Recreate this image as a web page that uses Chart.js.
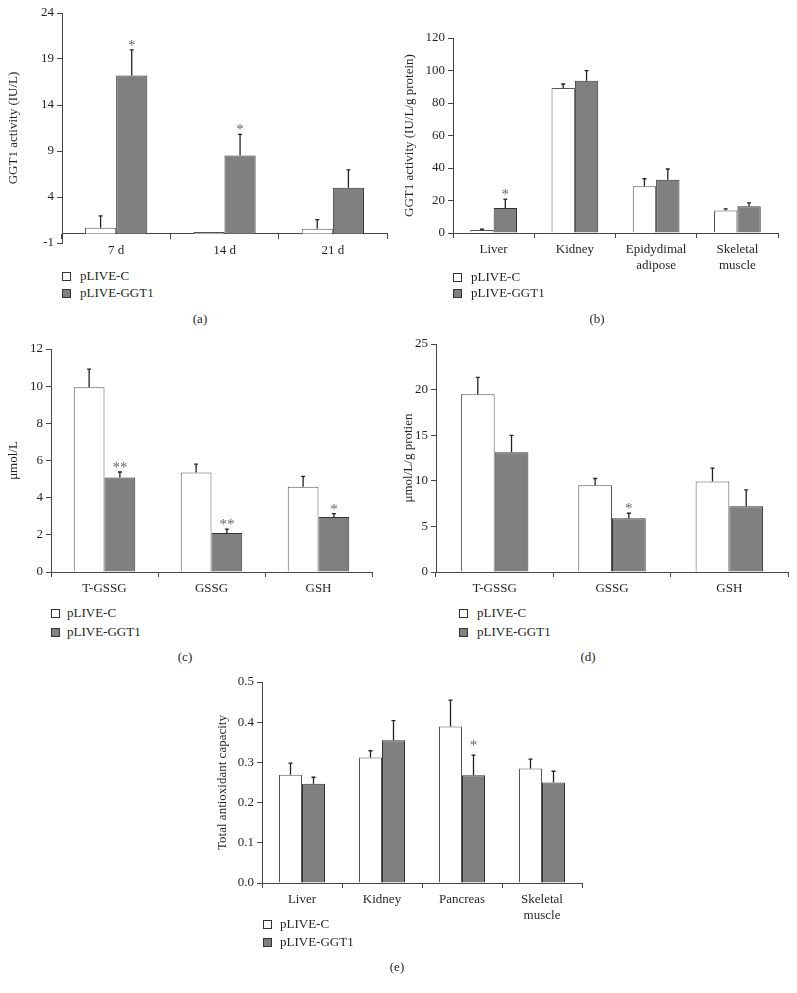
<!DOCTYPE html>
<html lang="en">
<head>
<meta charset="UTF-8">
<title>GGT1 activity and glutathione panels</title>
<script src="https://cdn.jsdelivr.net/npm/chart.js"></script>
<style>
  body { margin: 0; background: #fff; }
  #fig { position: relative; width: 797px; height: 993px; font-family: "Liberation Serif", serif; color: #231f20; }
  #fig canvas { position: absolute; }
  .cap { position: absolute; font-size: 13px; transform: translate(-50%, -50%); }
  .leg { position: absolute; font-size: 13px; line-height: 16px; white-space: nowrap; transform: translateY(-50%); }
  .leg i { position: absolute; left: 0; top: 4px; width: 7px; height: 7px; border: 1px solid #333; }
</style>
</head>
<body>
<div id="fig"></div>
<script>
const seriesNames = ['pLIVE-C', 'pLIVE-GGT1'];

// (a) serum GGT1 after injection
const catsA = ['7 d', '14 d', '21 d'];
const ctrlA = [0.65, 0.2, 0.55];
const ctrlErrA = [1.3, 0, 1.0];
const ggtA = [17.2, 8.5, 5.0];
const ggtErrA = [2.8, 2.3, 1.95];
const starsA = ['*', '*', ''];
const yTicksA = [-1, 4, 9, 14, 19, 24];

// (b) tissue GGT1
const catsB = ['Liver', 'Kidney', ['Epidydimal', 'adipose'], ['Skeletal', 'muscle']];
const ctrlB = [1.8, 89.2, 28.7, 13.9];
const ctrlErrB = [0.5, 2.5, 4.7, 0.9];
const ggtB = [15.4, 93.7, 32.8, 16.4];
const ggtErrB = [5.5, 6.2, 6.6, 2.1];
const starsB = ['*', '', '', ''];
const yTicksB = [0, 20, 40, 60, 80, 100, 120];

// (c) serum glutathione
const catsC = ['T-GSSG', 'GSSG', 'GSH'];
const ctrlC = [9.94, 5.36, 4.59];
const ctrlErrC = [0.98, 0.45, 0.56];
const ggtC = [5.09, 2.10, 2.96];
const ggtErrC = [0.29, 0.21, 0.18];
const starsC = ['**', '**', '*'];
const yTicksC = [0, 2, 4, 6, 8, 10, 12];

// (d) liver glutathione
const catsD = ['T-GSSG', 'GSSG', 'GSH'];
const ctrlD = [19.5, 9.52, 9.92];
const ctrlErrD = [1.83, 0.73, 1.46];
const ggtD = [13.14, 5.89, 7.21];
const ggtErrD = [1.83, 0.55, 1.79];
const starsD = ['', '*', ''];
const yTicksD = [0, 5, 10, 15, 20, 25];

// (e) total antioxidant capacity
const catsE = ['Liver', 'Kidney', 'Pancreas', ['Skeletal', 'muscle']];
const ctrlE = [0.269, 0.312, 0.389, 0.285];
const ctrlErrE = [0.029, 0.017, 0.066, 0.023];
const ggtE = [0.247, 0.355, 0.268, 0.25];
const ggtErrE = [0.016, 0.049, 0.05, 0.028];
const starsE = ['', '', '*', ''];
const yTicksE = [0, 0.1, 0.2, 0.3, 0.4, 0.5];

const ink = '#231f20';
const axisCol = '#444';
const font = { family: '"Liberation Serif", serif', size: 13 };
const fig = document.getElementById('fig');

// error bars (upward only) and significance stars
const errBars = {
  id: 'errBars',
  afterDatasetsDraw(chart, args, opts) {
    const ctx = chart.ctx, y = chart.scales.y;
    ctx.save();
    chart.data.datasets.forEach((ds, di) => {
      chart.getDatasetMeta(di).data.forEach((bar, i) => {
        const e = ds.err[i];
        const top = y.getPixelForValue(ds.data[i] + e);
        if (e > 0) {
          ctx.strokeStyle = '#222';
          ctx.lineWidth = 1.3;
          ctx.beginPath();
          ctx.moveTo(bar.x, bar.y);
          ctx.lineTo(bar.x, top);
          ctx.moveTo(bar.x - 2, top);
          ctx.lineTo(bar.x + 2, top);
          ctx.stroke();
        }
        const s = ds.stars[i];
        if (s) {
          ctx.fillStyle = '#666';
          ctx.font = '15px "Liberation Serif", serif';
          ctx.textAlign = 'center';
          ctx.textBaseline = 'alphabetic';
          ctx.fillText(s, bar.x, top - opts.gap);
        }
      });
    });
    ctx.restore();
  }
};

function panel(p) {
  const cv = document.createElement('canvas');
  cv.width = p.w;
  cv.height = p.h;
  cv.style.left = p.x + 'px';
  cv.style.top = p.y + 'px';
  fig.appendChild(cv);
  const fmt = p.fmt || (v => String(v));
  new Chart(cv, {
    type: 'bar',
    data: {
      labels: p.cats,
      datasets: [
        { label: seriesNames[0], data: p.ctrl, err: p.ctrlErr, stars: [],
          backgroundColor: '#ffffff', borderColor: '#555', borderWidth: 1 },
        { label: seriesNames[1], data: p.ggt, err: p.ggtErr, stars: p.stars,
          backgroundColor: '#808080', borderColor: '#333', borderWidth: 1 }
      ]
    },
    options: {
      responsive: false,
      animation: false,
      devicePixelRatio: 1,
      layout: { padding: p.pad },
      datasets: { bar: { categoryPercentage: 0.575, barPercentage: 1 } },
      plugins: {
        legend: { display: false },
        tooltip: { enabled: false },
        errBars: { gap: p.gap }
      },
      scales: {
        x: {
          position: p.xAt !== undefined ? { y: p.xAt } : 'bottom',
          grid: { offset: true, drawOnChartArea: false, tickLength: 5, color: axisCol },
          border: { color: axisCol },
          ticks: { font: font, color: ink, padding: 4, maxRotation: 0 },
          afterFit: s => { if (p.xH) s.height = p.xH; }
        },
        y: {
          min: p.yTicks[0],
          max: p.yTicks[p.yTicks.length - 1],
          afterBuildTicks: s => { s.ticks = p.yTicks.map(v => ({ value: v })); },
          afterFit: s => { s.width = p.yW; },
          grid: { drawOnChartArea: false, tickLength: 5, color: axisCol },
          border: { color: axisCol },
          ticks: { font: font, color: ink, padding: 3, callback: v => fmt(v) },
          title: { display: true, text: p.title, font: font, color: ink, padding: 0 }
        }
      }
    },
    plugins: [errBars]
  });

  // legend
  p.legRows.forEach((ry, i) => {
    const row = document.createElement('div');
    row.className = 'leg';
    row.style.left = p.legX + 'px';
    row.style.top = ry + 'px';
    row.innerHTML = '<i style="background:' + (i ? '#808080' : '#fff') + '"></i><span style="margin-left:' +
      p.legGap + 'px">' + seriesNames[i] + '</span>';
    fig.appendChild(row);
  });
  const cap = document.createElement('div');
  cap.className = 'cap';
  cap.style.left = p.capAt[0] + 'px';
  cap.style.top = p.capAt[1] + 'px';
  cap.textContent = p.cap;
  fig.appendChild(cap);
}

panel({ x: 0, y: 0, w: 400, h: 262, pad: { left: 6, top: 13, right: 13, bottom: 19 }, yW: 56, xAt: 0,
  cats: catsA, ctrl: ctrlA, ctrlErr: ctrlErrA, ggt: ggtA, ggtErr: ggtErrA, stars: starsA, yTicks: yTicksA,
  title: 'GGT1 activity (IU/L)', gap: 0, legX: 62, legGap: 18, legRows: [276, 293], cap: '(a)', capAt: [200, 319] });

panel({ x: 400, y: 0, w: 397, h: 280, pad: { left: 2, top: 38, right: 19, bottom: 0 }, yW: 51, xH: 47,
  cats: catsB, ctrl: ctrlB, ctrlErr: ctrlErrB, ggt: ggtB, ggtErr: ggtErrB, stars: starsB, yTicks: yTicksB,
  title: 'GGT1 activity (IU/L/g protein)', gap: 0, legX: 453, legGap: 18, legRows: [277, 293], cap: '(b)', capAt: [597, 319] });

panel({ x: 0, y: 330, w: 390, h: 270, pad: { left: 6, top: 19, right: 18, bottom: 0 }, yW: 45, xH: 28,
  cats: catsC, ctrl: ctrlC, ctrlErr: ctrlErrC, ggt: ggtC, ggtErr: ggtErrC, stars: starsC, yTicks: yTicksC,
  title: 'μmol/L', gap: 0, legX: 51, legGap: 16, legRows: [613, 632], cap: '(c)', capAt: [185, 657] });

panel({ x: 400, y: 330, w: 397, h: 270, pad: { left: 1, top: 14, right: 9, bottom: 0 }, yW: 35, xH: 28,
  cats: catsD, ctrl: ctrlD, ctrlErr: ctrlErrD, ggt: ggtD, ggtErr: ggtErrD, stars: starsD, yTicks: yTicksD,
  title: 'μmol/L/g protien', gap: 0, legX: 459, legGap: 18, legRows: [613, 632], cap: '(d)', capAt: [588, 657] });

panel({ x: 200, y: 660, w: 400, h: 265, pad: { left: 15, top: 22, right: 18, bottom: 0 }, yW: 47, xH: 42,
  cats: catsE, ctrl: ctrlE, ctrlErr: ctrlErrE, ggt: ggtE, ggtErr: ggtErrE, stars: starsE, yTicks: yTicksE,
  fmt: v => v.toFixed(1),
  title: 'Total antioxidant capacity', gap: 5, legX: 263, legGap: 17, legRows: [924, 942], cap: '(e)', capAt: [397, 967] });
</script>
</body>
</html>
